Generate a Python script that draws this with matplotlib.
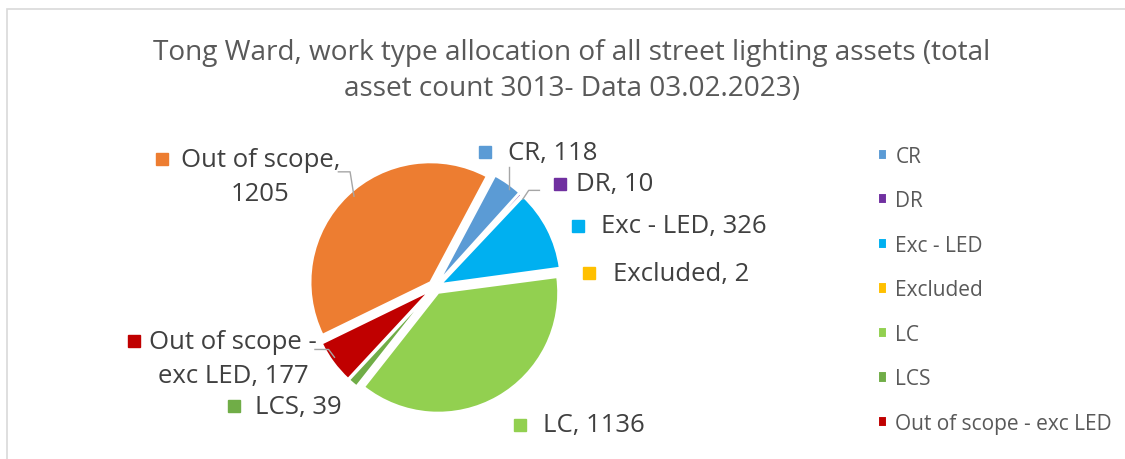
import matplotlib
matplotlib.use('Agg')
import matplotlib.pyplot as plt
from matplotlib.patches import Rectangle
import numpy as np

plt.rcParams['font.family'] = ['Open Sans', 'DejaVu Sans']

categories = ['CR', 'DR', 'Exc - LED', 'Excluded', 'LC', 'LCS',
              'Out of scope - exc LED', 'Out of scope']
counts = [118, 10, 326, 2, 1136, 39, 177, 1205]
colors = ['#5B9BD5', '#7030A0', '#00B0F0', '#FFC000', '#92D050', '#70AD47',
          '#C00000', '#ED7D31']
label_texts = ['CR, 118', 'DR, 10', 'Exc - LED, 326', 'Excluded, 2', 'LC, 1136',
               'LCS, 39', 'Out of scope -\nexc LED, 177', 'Out of scope,\n1205']
title = ('Tong Ward, work type allocation of all street lighting assets (total\n'
         'asset count 3013- Data 03.02.2023)')

W, H = 1125, 460
fig = plt.figure(figsize=(W/100, H/100), dpi=100)

# chart border
fig.patches.append(Rectangle((7/W, -0.1), 1.2, (H-10)/H + 0.1, transform=fig.transFigure,
                             fill=False, edgecolor='#D9D9D9', lw=1.2))

# pie axes centred at (435,288) px, radius ~123 px
cx, cy, half = 435, 288, 150
ax = fig.add_axes([(cx-half)/W, (H-cy-half)/H, 2*half/W, 2*half/H])
lim = 1.22
ax.set_xlim(-lim, lim)
ax.set_ylim(-lim, lim)
ax.set_aspect('equal')
ax.axis('off')

wedges, _ = ax.pie(counts, colors=colors, startangle=62, counterclock=False,
                   explode=[0.055]*len(counts), radius=1.0,
                   wedgeprops={'linewidth': 1.5, 'edgecolor': 'white'})

def px2d(px, py):
    return (px-cx)/(half/lim), (cy-py)/(half/lim)

# label layout: (text x px, first-line y px, marker x px)
label_pos = [(510, 150, 486), (579, 182, 563), (605, 225, 582),
             (617, 274, 593), (546, 429, 522), (251, 410, 229),
             (228, 343, 127), (256, 157, 155)]
line_gap = 36
for txt, (tx, ty, mx), col in zip(label_texts, label_pos, colors):
    if '\n' in txt:
        x, y = px2d(tx, ty + line_gap/2)
        ax.text(x, y, txt, ha='center', va='center', multialignment='center',
                fontsize=18.5, color='#404040', linespacing=1.45, clip_on=False)
    else:
        x, y = px2d(tx, ty)
        ax.text(x, y, txt, ha='left', va='center', fontsize=18.5,
                color='#404040', clip_on=False)
    mxd, myd = px2d(mx, ty)
    ax.plot([mxd], [myd], marker='s', ms=8.5, color=col, clip_on=False, lw=0)

# leader lines
leaders = [[(352, 195), (348, 170), (336, 170)],
           [(511, 188), (511, 165)],
           [(525, 198), (531, 189), (542, 189)],
           [(332, 360), (326, 352), (312, 352)]]
for pts in leaders:
    d = [px2d(*p) for p in pts]
    ax.plot([p[0] for p in d], [p[1] for p in d], color='#A6A6A6', lw=1, clip_on=False)

fig.text(572/W, 1-71/H, title, ha='center', va='center', fontsize=20.2,
         color='#595959', linespacing=1.35)

handles = wedges[:7]
leg = fig.legend(handles, categories[:7], loc='upper left', bbox_to_anchor=(859/W, 1-128/H),
                 frameon=False, fontsize=15, labelcolor='#595959', handlelength=0.45,
                 handleheight=0.45, handletextpad=0.4, labelspacing=1.13)

fig.savefig('out.png', dpi=100)
